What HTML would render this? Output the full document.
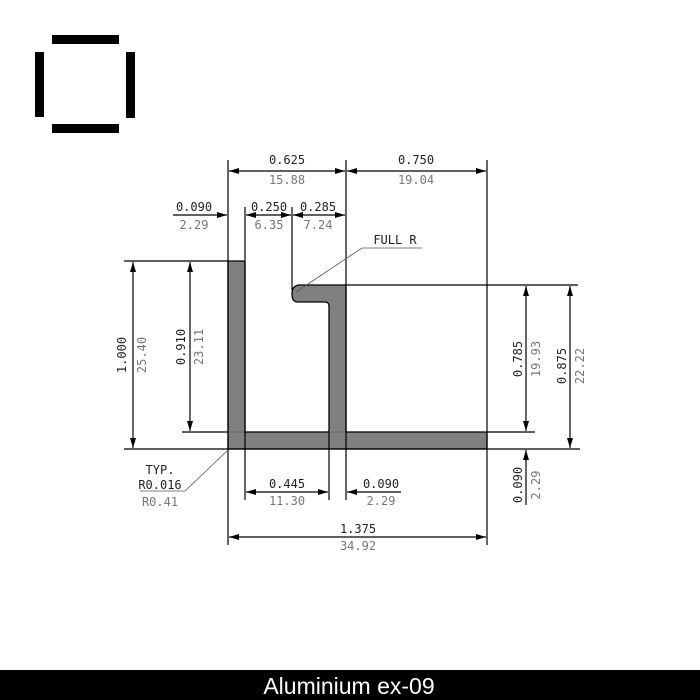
<!DOCTYPE html>
<html><head><meta charset="utf-8"><style>
html,body{margin:0;padding:0;background:#fff;width:700px;height:700px;overflow:hidden}
svg{display:block}
.d{font-family:"DejaVu Sans Mono","Liberation Mono",monospace;font-size:12px}
</style></head><body>
<svg width="700" height="700" viewBox="0 0 700 700" xmlns="http://www.w3.org/2000/svg">
<defs>
<marker id="a" viewBox="0 0 10 6" refX="10" refY="3" markerWidth="10" markerHeight="6" orient="auto-start-reverse" markerUnits="userSpaceOnUse"><path d="M0,0 L10,3 L0,6 z" fill="#000"/></marker>
</defs>
<rect x="52" y="35" width="67" height="9" fill="#000"/>
<rect x="52" y="124" width="67" height="9" fill="#000"/>
<rect x="35" y="52" width="9" height="65" fill="#000"/>
<rect x="126" y="52" width="9" height="66" fill="#000"/>

<path d="M228,261 H243 Q245,261 245,263 V432 H327 Q329,432 329,430 V306 Q329,302 325,302 H298 Q292,302 292,294 Q292,285 300,285 H346 V432 H485 Q487,432 487,434 V447 Q487,449 485,449 H228 Z" fill="#808080" stroke="#000" stroke-width="1.3"/>
<line x1="228" y1="432" x2="245" y2="432" stroke="#555" stroke-width="0.6"/>
<line x1="329" y1="432" x2="346" y2="432" stroke="#555" stroke-width="0.6"/>
<line x1="245" y1="432" x2="245" y2="449" stroke="#555" stroke-width="0.6"/>

<g stroke="#000" stroke-width="1.2" fill="none">
<line x1="228" y1="160" x2="228" y2="545"/>
<line x1="346" y1="160" x2="346" y2="500"/>
<line x1="487" y1="160" x2="487" y2="545"/>
<line x1="245" y1="207" x2="245" y2="500"/>
<line x1="292" y1="207" x2="292" y2="290"/>
<line x1="329" y1="432" x2="329" y2="500"/>
<line x1="124" y1="261" x2="228" y2="261"/>
<line x1="124" y1="449" x2="580" y2="449"/>
<line x1="182" y1="432" x2="228" y2="432"/>
<line x1="487" y1="432" x2="535" y2="432"/>
<line x1="346" y1="285" x2="578" y2="285"/>
<line x1="229" y1="171" x2="345" y2="171" marker-start="url(#a)" marker-end="url(#a)"/>
<line x1="347" y1="171" x2="486" y2="171" marker-start="url(#a)" marker-end="url(#a)"/>
<line x1="173" y1="215" x2="227" y2="215" marker-end="url(#a)"/>
<line x1="246" y1="215" x2="291" y2="215" marker-start="url(#a)" marker-end="url(#a)"/>
<line x1="293" y1="215" x2="345" y2="215" marker-start="url(#a)" marker-end="url(#a)"/>
<line x1="133" y1="262" x2="133" y2="448" marker-start="url(#a)" marker-end="url(#a)"/>
<line x1="190" y1="262" x2="190" y2="431" marker-start="url(#a)" marker-end="url(#a)"/>
<line x1="526" y1="286" x2="526" y2="431" marker-start="url(#a)" marker-end="url(#a)"/>
<line x1="570" y1="286" x2="570" y2="448" marker-start="url(#a)" marker-end="url(#a)"/>
<line x1="526" y1="505" x2="526" y2="450" marker-end="url(#a)"/>
<line x1="246" y1="492" x2="328" y2="492" marker-start="url(#a)" marker-end="url(#a)"/>
<line x1="401" y1="492" x2="347" y2="492" marker-end="url(#a)"/>
<line x1="229" y1="537" x2="486" y2="537" marker-start="url(#a)" marker-end="url(#a)"/>
</g>
<g stroke="#555" stroke-width="0.8" fill="none">
<polyline points="296,292 362,248 422,248"/>
<polyline points="228,450 185,491 140,491"/>
</g>

<g class="d" text-anchor="middle">
<text x="287" y="164" fill="#222">0.625</text><text x="287" y="184" fill="#777">15.88</text>
<text x="416" y="164" fill="#222">0.750</text><text x="416" y="184" fill="#777">19.04</text>
<text x="194" y="211" fill="#222">0.090</text><text x="194" y="229" fill="#777">2.29</text>
<text x="269" y="211" fill="#222">0.250</text><text x="269" y="229" fill="#777">6.35</text>
<text x="318" y="211" fill="#222">0.285</text><text x="318" y="229" fill="#777">7.24</text>
<text x="395" y="244" fill="#222">FULL R</text>
<text x="287" y="488" fill="#222">0.445</text><text x="287" y="505" fill="#777">11.30</text>
<text x="381" y="488" fill="#222">0.090</text><text x="381" y="505" fill="#777">2.29</text>
<text x="358" y="533" fill="#222">1.375</text><text x="358" y="550" fill="#777">34.92</text>
<text x="160" y="474" fill="#222">TYP.</text>
<text x="160" y="489" fill="#222">R0.016</text>
<text x="160" y="506" fill="#777">R0.41</text>
<text transform="translate(126,355) rotate(-90)" fill="#222">1.000</text>
<text transform="translate(146,355) rotate(-90)" fill="#777">25.40</text>
<text transform="translate(185,347) rotate(-90)" fill="#222">0.910</text>
<text transform="translate(203,347) rotate(-90)" fill="#777">23.11</text>
<text transform="translate(522,359) rotate(-90)" fill="#222">0.785</text>
<text transform="translate(540,359) rotate(-90)" fill="#777">19.93</text>
<text transform="translate(566,366) rotate(-90)" fill="#222">0.875</text>
<text transform="translate(584,366) rotate(-90)" fill="#777">22.22</text>
<text transform="translate(522,485) rotate(-90)" fill="#222">0.090</text>
<text transform="translate(540,485) rotate(-90)" fill="#777">2.29</text>
</g>

<rect x="0" y="670" width="700" height="30" fill="#000"/>
<text x="349" y="694" text-anchor="middle" fill="#fff" font-family="Liberation Sans, sans-serif" font-size="23">Aluminium ex-09</text>
</svg>
</body></html>
